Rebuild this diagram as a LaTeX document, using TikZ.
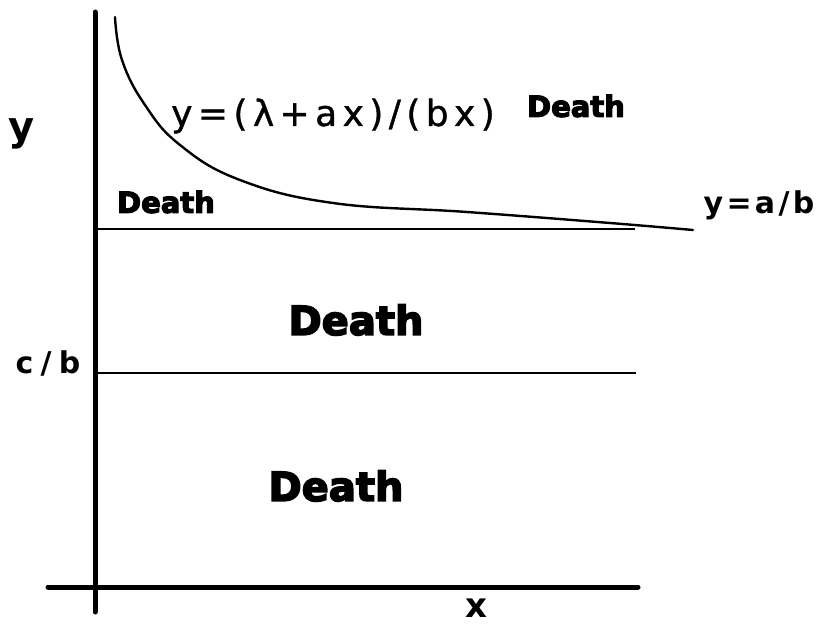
\documentclass[tikz,border=0pt]{standalone}
\usepackage{fontspec}
\usepackage{tikz}
\usetikzlibrary{positioning}
\newfontfamily\plotfont[LetterSpace=15, FakeBold=1]{DejaVu Sans}
\newfontfamily\labfont[LetterSpace=11]{DejaVu Sans Bold}
\newfontfamily\widelabfont[LetterSpace=24]{DejaVu Sans Bold}
\newfontfamily\deathfont[FakeBold=4]{DejaVu Sans Bold}

\begin{document}
\begin{tikzpicture}[
    x=1pt, y=-1pt,
    axis/.style={line width=5pt, line cap=round},
    level/.style={line width=2.8pt},
    curve/.style={line width=2.4pt, line cap=round},
    lab/.style={inner sep=0pt, font=\labfont\fontsize{30}{32}\selectfont},
    death/.style={inner sep=0pt, font=\deathfont\fontsize{29}{31}\selectfont},
    bigdeath/.style={inner sep=0pt, font=\deathfont\fontsize{40}{42}\selectfont}
]
\useasboundingbox (0,0) rectangle (817,626);

% axes
\coordinate (ytop) at (95,12);
\coordinate (ybot) at (95,612);
\coordinate (xleft) at (48,587);
\coordinate (xright) at (638,587);
\draw[axis] (ytop) -- (ybot);
\draw[axis] (xleft) -- (xright);

% the two levels
\coordinate (abl) at (95,229);
\coordinate (abr) at (635,229);
\coordinate (cbl) at (95,373);
\coordinate (cbr) at (636,373);
\draw[level] (abl) -- (abr);
\draw[level] (cbl) -- (cbr);

% the hyperbola
\draw[curve] plot[smooth, tension=0.7] coordinates {
    (115,17) (122,60) (145,105) (180,145) (240,180)
    (333,203) (467,212) (610,223) (693,230)};

\node[lab, font=\labfont\fontsize{40}{42}\selectfont] (ylab) at (22,134) {y};
\node[lab, font=\labfont\fontsize{34}{36}\selectfont] (xlab) at (476,608) {x};
\node[lab, font=\widelabfont\fontsize{30}{32}\selectfont] (cblab) at (48,363) {c/b};
\node[lab] (ablab) at (759,205) {y=a/b};
\node[inner sep=0pt, font=\plotfont\fontsize{36}{38}\selectfont] (formula) at (333,116) {y=(λ+ax)/(bx)};

\node[death] (d1) at (576,106) {Death};
\node[death] (d2) at (166,202) {Death};
\node[bigdeath] (d3) at (356,320) {Death};
\node[bigdeath] (d4) at (336,486) {Death};
\end{tikzpicture}
\end{document}
